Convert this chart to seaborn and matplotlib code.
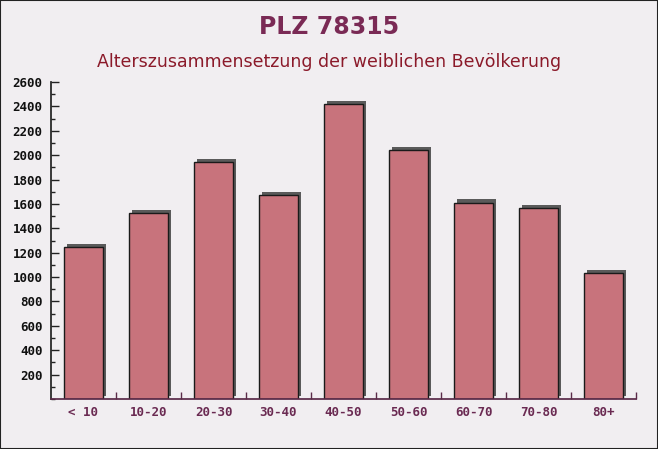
import matplotlib
matplotlib.use("Agg")
import matplotlib.pyplot as plt
import matplotlib.patheffects as pe
from matplotlib.patches import Rectangle
from matplotlib.ticker import MultipleLocator
import pandas as pd
import seaborn as sns

age_groups = ["< 10", "10-20", "20-30", "30-40", "40-50", "50-60", "60-70", "70-80", "80+"]
women = [1247, 1526, 1944, 1673, 2420, 2043, 1610, 1564, 1031]
y_ticks = [200, 400, 600, 800, 1000, 1200, 1400, 1600, 1800, 2000, 2200, 2400, 2600]

df = pd.DataFrame({"age": age_groups, "count": women})

sns.set_theme(style="white")
plt.rcParams["font.family"] = ["DejaVu Sans"]

fig = plt.figure(figsize=(6.58, 4.49), dpi=100, facecolor="#f1eef1")
ax = fig.add_axes([51 / 658, 50 / 449, 585 / 658, 317 / 449])
ax.set_facecolor("none")

sns.barplot(data=df, x="age", y="count", ax=ax, color="#c8737c", width=0.6,
            edgecolor="#1a1a1a", linewidth=1.0, saturation=1)
for bar in ax.patches:
    bar.set_path_effects([
        pe.SimplePatchShadow(offset=(2.4, 2.4), shadow_rgbFace="#5a5a5a", alpha=1.0),
        pe.Normal(),
    ])

ax.set_ylim(0, 2600)
ax.set_xlim(-0.5, len(age_groups) - 0.5)
ax.set_yticks(y_ticks)
ax.yaxis.set_minor_locator(MultipleLocator(100))
ax.set_xticks(range(len(age_groups)))
ax.set_xticklabels(age_groups)
ax.set_xticks([i + 0.5 for i in range(len(age_groups))], minor=True)
ax.set_xlabel("")
ax.set_ylabel("")

for side in ["top", "right"]:
    ax.spines[side].set_visible(False)
ax.spines["left"].set_color("#222222")
ax.spines["bottom"].set_color("#5a2a48")

mono = ["DejaVu Sans Mono"]
ax.tick_params(axis="y", which="major", direction="in", length=6, width=1, color="#222222",
               labelsize=9, labelcolor="#111111", pad=6, left=True)
ax.tick_params(axis="y", which="minor", direction="in", length=3, width=1, color="#222222", left=True)
ax.tick_params(axis="x", which="major", length=0, labelsize=9, labelcolor="#6a2a52", pad=5)
ax.tick_params(axis="x", which="minor", direction="in", length=5, width=1, color="#5a2a48", bottom=True)
for lab in ax.get_yticklabels() + ax.get_xticklabels():
    lab.set_family(mono)
    lab.set_fontweight("bold")

fig.text(0.5, 1 - 27 / 449, "PLZ 78315", ha="center", va="center", fontsize=17,
         fontweight="bold", color="#7a2a55")
fig.text(0.5, 1 - 62 / 449, "Alterszusammensetzung der weiblichen Bevölkerung", ha="center",
         va="center", fontsize=12.5, color="#8b1a2a")

fig.patches.append(Rectangle((0, 0), 1, 1, transform=fig.transFigure, fill=False,
                             edgecolor="#222222", linewidth=1.5))

fig.savefig("out.png", dpi=100, facecolor=fig.get_facecolor())
